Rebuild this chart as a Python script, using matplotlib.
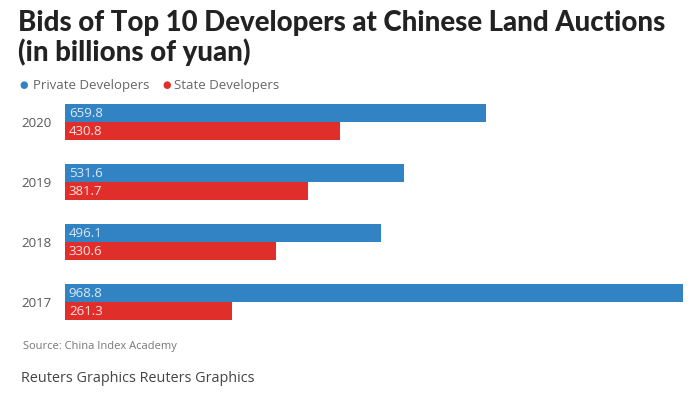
import numpy as np
import matplotlib.pyplot as plt

years = ["2020", "2019", "2018", "2017"]
private = [659.8, 531.6, 496.1, 968.8]
state = [430.8, 381.7, 330.6, 261.3]

blue = "#3283c4"
red = "#e02f2a"

fig = plt.figure(figsize=(6.98, 3.94), dpi=100)
W, H = 698, 394

# axes placed in pixel terms
left, right, top, bottom = 65, 683, 95, 330
ax = fig.add_axes([left / W, 1 - bottom / H, (right - left) / W, (bottom - top) / H])

y = np.arange(len(years))
h = 0.3
ax.barh(y - h / 2, private, height=h, color=blue)
ax.barh(y + h / 2, state, height=h, color=red)
ax.set_xlim(0, max(private))
ax.set_ylim(3 + (330 - 302) / 60, -(122.5 - 95) / 60)

for i in range(len(years)):
    ax.text(6, y[i] - h / 2, f"{private[i]:.1f}", color="#dce9f5", va="center", ha="left", fontsize=9.5, family="Open Sans")
    ax.text(6, y[i] + h / 2, f"{state[i]:.1f}", color="#fbe3e2", va="center", ha="left", fontsize=9.5, family="Open Sans")

ax.set_yticks(y)
ax.set_yticklabels(years, fontsize=9.5, color="#555555", family="Open Sans")
ax.tick_params(axis="y", length=0, pad=10)
ax.set_xticks([])
for s in ax.spines.values():
    s.set_visible(False)

# title and legend
fig.text(18 / W, 1 - 31 / H, "Bids of Top 10 Developers at Chinese Land Auctions", fontsize=19.9,
         fontweight="black", color="#222222", family="Lato")
fig.text(18 / W, 1 - 61 / H, "(in billions of yuan)", fontsize=19.9, fontweight="black",
         color="#222222", family="Lato")

fig.text(19 / W, 1 - 85 / H, "\u25cf", color=blue, fontsize=7, va="center")
fig.text(33 / W, 1 - 85 / H, "Private Developers", color="#666666", fontsize=9.5, va="center", family="Open Sans")
fig.text(162 / W, 1 - 85 / H, "\u25cf", color=red, fontsize=7, va="center")
fig.text(174 / W, 1 - 85 / H, "State Developers", color="#666666", fontsize=9.5, va="center", family="Open Sans")

fig.text(23 / W, 1 - 347 / H, "Source: China Index Academy", color="#777777", fontsize=8, va="center", family="Open Sans")
fig.text(21 / W, 1 - 378 / H, "Reuters Graphics Reuters Graphics", color="#444444", fontsize=10.4, va="center", family="Open Sans")

fig.savefig("out.png", dpi=100)
